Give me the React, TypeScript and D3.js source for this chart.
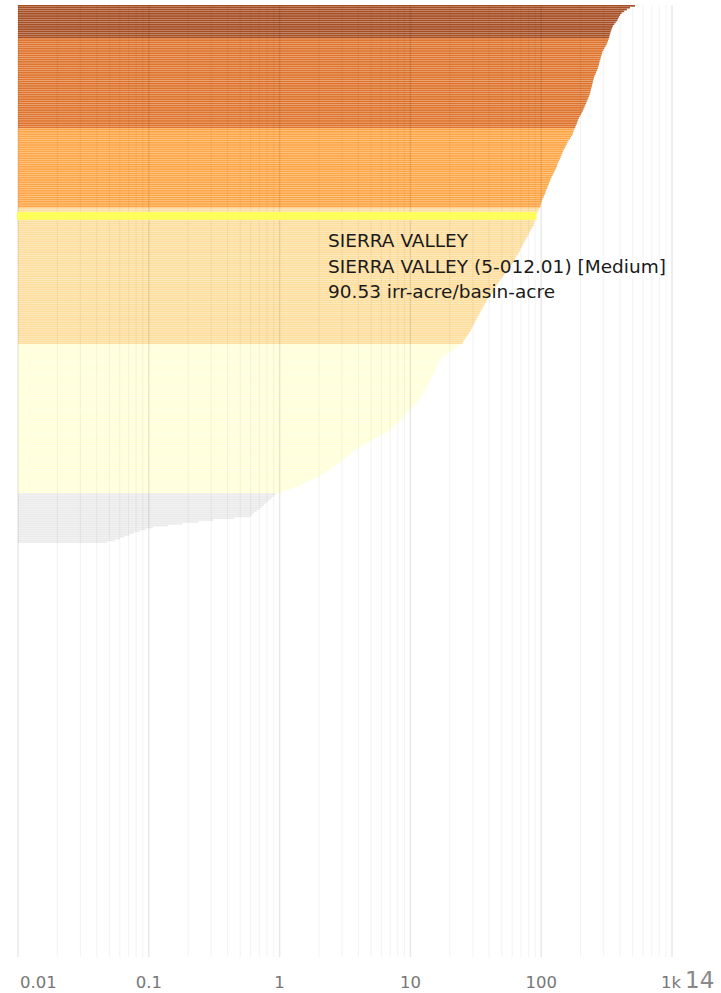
import React from "react";
import * as d3 from "d3";

// irrigated acres per basin acre, sorted descending
const values: number[] = [
  521, 477, 452, 431, 412, 401, 393, 387, 381, 371, 362, 353, 348, 344, 340, 337, 334, 331,
  328, 324, 320, 316, 310, 304, 299, 294, 291, 288, 286, 283, 280, 278, 276, 273, 271, 267,
  263, 260, 256, 253, 251, 249, 247, 245, 243, 241, 239, 237, 235, 232, 229, 226, 223, 220,
  217, 214, 211, 208, 204, 201, 197, 194, 191, 189, 187, 184, 182,
  179, 177, 175, 173, 169, 166, 162, 159, 157, 154, 152, 149, 147, 145, 143, 141, 139, 137,
  135, 133, 132, 130, 128, 126, 124, 122, 120, 118, 117, 115, 114, 112, 111, 109, 108, 107,
  105, 104, 102, 101, 100, 99.1, 98.3,
  96.8, 95.2, 93.6, 92.0, 90.53, 90.0, 89.5, 89.0, 88.5, 88.0, 86.2, 84.4, 82.6, 81.0, 80.1,
  78.6, 77.2, 75.8, 74.5, 73.2, 71.9, 70.6, 69.4, 68.6, 67.3, 66.0, 64.7, 63.4, 62.2, 61.0,
  59.8, 58.6, 57.6, 56.2, 54.8, 53.4, 52.1, 50.8, 49.5, 48.4, 47.4, 46.4, 45.4, 44.4, 43.5,
  42.6, 41.7, 40.8, 39.9, 39.1, 38.3, 37.6, 36.9, 36.2, 35.6, 35.0, 34.4, 33.8, 33.2, 32.6,
  32.0, 31.5, 31.0, 30.4, 29.9, 29.4, 28.9, 28.4, 27.9, 27.2, 26.6, 26.0, 25.5, 25.1,
  24.0, 22.9, 21.8, 20.8, 19.9, 19.0, 18.0, 17.1, 16.9, 16.6, 16.4, 16.1, 15.9, 15.6, 15.4,
  15.2, 14.9, 14.6, 14.4, 14.2, 14.0, 13.7, 13.5, 13.2, 13.0, 12.7, 12.5, 12.3, 12.1, 11.9,
  11.5, 11.2, 10.9, 10.6, 10.3, 10.0, 9.7, 9.4, 9.1, 8.85, 8.6, 8.35, 8.1, 7.85, 7.6, 7.35,
  7.1, 6.8, 6.4, 6.0, 5.6, 5.25, 4.95, 4.7, 4.45, 4.2, 3.95, 3.8, 3.65, 3.5, 3.35, 3.2, 3.08,
  2.95, 2.85, 2.75, 2.6, 2.48, 2.36, 2.24, 2.12, 2.0, 1.88, 1.77, 1.66, 1.55, 1.44, 1.33,
  1.22, 1.1, 1.02,
  0.93, 0.9, 0.87, 0.84, 0.81, 0.78, 0.76, 0.73, 0.7, 0.67, 0.64, 0.62, 0.6, 0.45, 0.31,
  0.24, 0.18, 0.14, 0.108, 0.095, 0.085, 0.077, 0.071, 0.065, 0.06, 0.055, 0.048,
];

const highlightIndex = 114;
const classBreaks = [1, 25, 97.5, 180, 330];
const classColors = ["#e8e8e8", "#ffffd4", "#fed98e", "#fe9929", "#d95f0e", "#993404"];
const tickValues = [0.01, 0.1, 1, 10, 100, 1000];
const tickLabels = ["0.01", "0.1", "1", "10", "100", "1k"];
const tooltipLines = [
  "SIERRA VALLEY",
  "SIERRA VALLEY (5-012.01) [Medium]",
  "90.53 irr-acre/basin-acre",
];

export default function App() {
  const width = 721;
  const height = 993;
  const top = 5;
  const barsBottom = 543;
  const gridBottom = 957;

  const x = d3.scaleLog().domain([0.01, 1000]).range([18, 672]);
  const y = d3
    .scaleBand<number>()
    .domain(values.map((_, i) => i))
    .range([top, barsBottom])
    .paddingInner(0.1);
  const color = d3.scaleThreshold<number, string>().domain(classBreaks).range(classColors);

  // minor + major grid lines across the log domain
  const grid: { v: number; major: boolean }[] = [];
  for (let k = -2; k <= 2; k++) {
    for (let m = 1; m <= 9; m++) grid.push({ v: m * Math.pow(10, k), major: m === 1 });
  }
  grid.push({ v: 1000, major: true });

  const x0 = x(0.01);
  const hv = values[highlightIndex];

  return (
    <svg
      width={width}
      height={height}
      style={{ position: "absolute", left: 0, top: 0, display: "block" }}
    >
      <rect width={width} height={height} fill="#fff" />
      <g fillOpacity={0.87}>
        {values.map((v, i) => (
          <rect
            key={i}
            x={x0}
            y={y(i)}
            width={x(v) - x0}
            height={y.bandwidth()}
            fill={color(v)}
          />
        ))}
      </g>
      <g>
        {grid.map((g, i) => (
          <line
            key={i}
            x1={x(g.v)}
            x2={x(g.v)}
            y1={top}
            y2={gridBottom}
            stroke={g.major ? "rgba(0,0,0,0.09)" : "rgba(0,0,0,0.045)"}
            strokeWidth={g.major ? 1.5 : 1.2}
          />
        ))}
      </g>
      <rect
        x={x0}
        y={(y(highlightIndex) as number) - 2}
        width={x(hv) - x0}
        height={y.bandwidth() + 4}
        fill="#ffff5a"
        stroke="#ffff5a"
        strokeWidth={2}
      />
      <g fontFamily="DejaVu Sans" fontSize={18.5} fill="#1a1a1a">
        {tooltipLines.map((t, i) => (
          <text key={i} x={328} y={247 + i * 25.5}>
            {t}
          </text>
        ))}
      </g>
      <g fontFamily="DejaVu Sans" fontSize={16.5} fill="#777">
        {tickValues.map((v, i) => (
          <text
            key={i}
            x={i === 0 ? x(v) + 2 : i === tickValues.length - 1 ? x(v) + 9 : x(v)}
            y={988}
            textAnchor={i === 0 ? "start" : i === tickValues.length - 1 ? "end" : "middle"}
          >
            {tickLabels[i]}
          </text>
        ))}
        <text x={685} y={988} fontSize={23} fill="#888">
          14
        </text>
      </g>
    </svg>
  );
}
